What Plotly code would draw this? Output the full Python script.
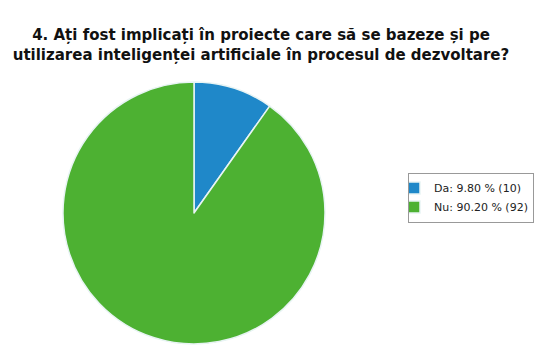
import plotly.graph_objects as go

labels = ["Da: 9.80 % (10)", "Nu: 90.20 % (92)"]
values = [10, 92]
colors = ["#1F88C9", "#4DB132"]

title_text = ("<b>4. Ați fost implicați în proiecte care să se bazeze și pe<br>"
              "utilizarea inteligenței artificiale în procesul de dezvoltare?</b>")

# page body has an 8px margin; paper is sized/positioned to compensate
W, H = 542, 352
OFF = 8

fig = go.Figure(go.Pie(
    labels=labels, values=values, sort=False, direction="clockwise", rotation=0,
    marker=dict(colors=colors, line=dict(color="#E8F4F4", width=1.5)),
    textinfo="none", hoverinfo="label",
    domain=dict(x=[(63 - OFF) / W, (325 - OFF) / W],
                y=[1 - (344 - OFF) / H, 1 - (82 - OFF) / H]),
))

fig.update_layout(
    width=W, height=H,
    margin=dict(l=0, r=0, t=0, b=0),
    paper_bgcolor="white", plot_bgcolor="white",
    title=dict(text=title_text, x=(261 - OFF) / W, xanchor="center",
               y=1 - (40 - OFF) / H, yanchor="top",
               font=dict(family="DejaVu Sans", size=15, color="#111111")),
    legend=dict(x=(408 - OFF) / W, xanchor="left", y=1 - (197.5 - OFF) / H, yanchor="middle",
                bordercolor="#999999", borderwidth=1, bgcolor="white",
                font=dict(family="DejaVu Sans", size=11, color="#222222"),
                itemwidth=30, tracegroupgap=0, indentation=-15),
)

fig.write_html("out.html")
